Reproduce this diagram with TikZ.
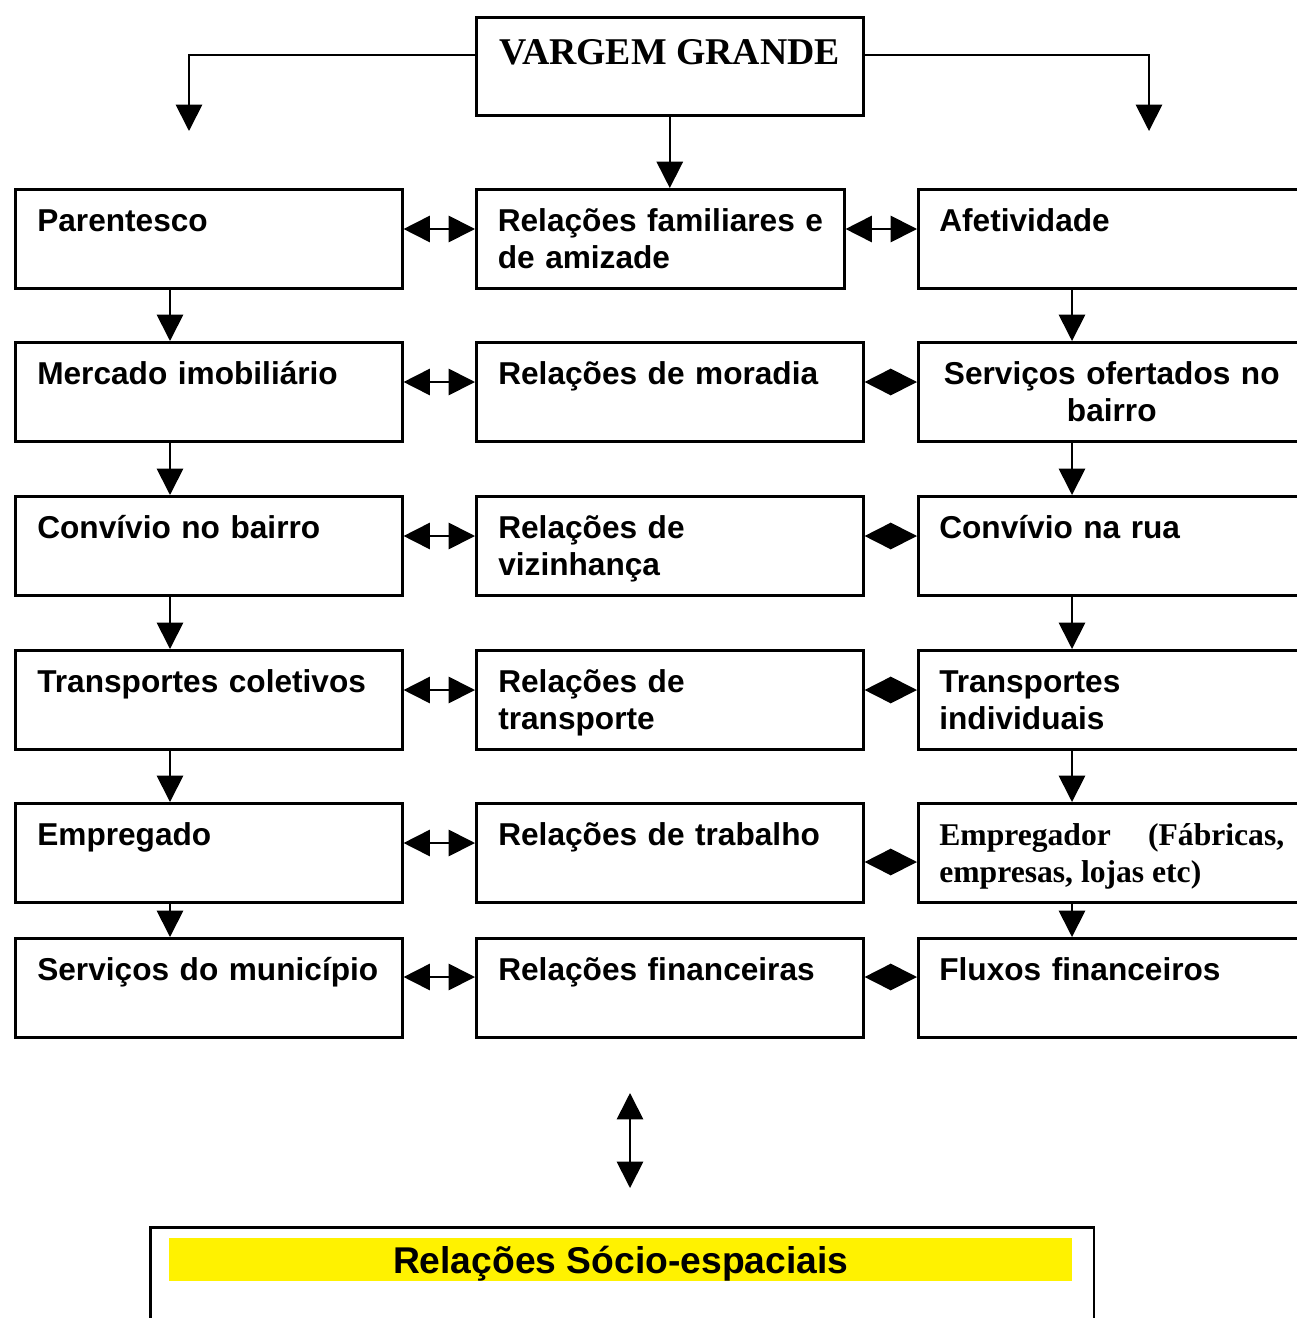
\documentclass[tikz,border=0pt]{standalone}
\usepackage{fontspec}
\setmainfont{Liberation Serif}
\setsansfont{Liberation Sans}
\usetikzlibrary{arrows.meta,calc}
\tikzset{cx/.style={draw,line width=1.5pt,anchor=north west,inner ysep=0pt,inner xsep=0.44cm,
  text width=6.86cm,align=left,text height=0.84cm,text depth=1.14cm,
  font=\fontsize{18}{21}\selectfont\sffamily\bfseries}}
\tikzset{cxd/.style={cx,inner xsep=0.42cm,text width=6.9cm}}
\tikzset{seta/.style={line width=1pt,-{Triangle[length=15pt,width=15pt]}}}
\tikzset{dupla/.style={line width=1pt,{Triangle[length=15pt,width=15pt]}-{Triangle[length=15pt,width=15pt]}}}

\begin{document}
\begin{tikzpicture}[x=0.02cm,y=-0.02cm]
  \useasboundingbox (0,0) rectangle (1296,1318);
  % topo
  \node[draw,line width=1.5pt,anchor=north west,inner sep=0pt,minimum width=7.74cm,
    text height=0.94cm,text depth=1.02cm,font=\fontsize{21.5}{24}\selectfont\rmfamily\bfseries]
    (vg) at (475,16) {VARGEM GRANDE};
  \coordinate (ltip) at (189,131);
  \coordinate (rtip) at (1149,131);
  % linha 1
  \node[cx] (par) at (14,188) {Parentesco};
  \node[cx,inner xsep=0.43cm,text width=6.5cm] (fam) at (475,188) {\mbox{Relações familiares e}\\ de amizade};
  \node[cxd] (afe) at (917,188) {Afetividade};
  % linha 2
  \node[cx] (mer) at (14,341) {Mercado imobiliário};
  \node[cx] (mor) at (475,341) {Relações de moradia};
  \node[cxd,align=center] (ser) at (917,341) {Serviços ofertados no\\ bairro};
  % linha 3
  \node[cx] (cbai) at (14,495) {Convívio no bairro};
  \node[cx] (viz) at (475,495) {Relações de\\ vizinhança};
  \node[cxd] (crua) at (917,495) {Convívio na rua};
  % linha 4
  \node[cx] (tcol) at (14,649) {Transportes coletivos};
  \node[cx] (tra) at (475,649) {Relações de\\ transporte};
  \node[cxd] (tind) at (917,649) {Transportes\\ individuais};
  % linha 5
  \node[cx] (empo) at (14,802) {Empregado};
  \node[cx] (trab) at (475,802) {Relações de trabalho};
  \node[cxd,align=justify,font=\fontsize{18}{21}\selectfont\rmfamily\bfseries] (empr) at (917,802)
    {Empregador (Fábricas, empresas, lojas etc)};
  % linha 6
  \node[cx] (smun) at (14,937) {Serviços do município};
  \node[cx] (fin) at (475,937) {Relações financeiras};
  \node[cxd] (flux) at (917,937) {Fluxos financeiros};
  % base
  \node[draw,line width=1.5pt,anchor=north west,minimum width=18.88cm,minimum height=3cm] (caixa) at (149,1226) {};
  \node[fill=yellow,anchor=north west,inner sep=0pt,minimum width=18.06cm,text height=0.7cm,text depth=0.16cm,
    font=\fontsize{21.2}{24}\selectfont\sffamily\bfseries] (rse) at (169,1238) {Relações Sócio-espaciais};
  \coordinate (up) at (630,1093);
  \coordinate (dn) at (630,1188);

  % conexoes
  \draw[seta] ($(vg.north west)+(0,39)$) -| (ltip);
  \draw[seta] ($(vg.north east)+(0,39)$) -| (rtip);
  \draw[seta] (vg.south) -- (vg.south |- fam.north);
  \foreach \a/\b in {par/mer,mer/cbai,cbai/tcol,tcol/empo,empo/smun}
    \draw[seta] ($(\a.south west)+(156,0)$) -- ($(\b.north west)+(156,0)$);
  \foreach \a/\b in {afe/ser,ser/crua,crua/tind,tind/empr,empr/flux}
    \draw[seta] ($(\a.south west)+(155,0)$) -- ($(\b.north west)+(155,0)$);
  \foreach \a/\b/\d in {par/fam/41,mer/mor/41,cbai/viz/41,tcol/tra/41,empo/trab/41,smun/fin/40}
    \draw[dupla] ($(\a.north east)+(0,\d)$) -- ($(\b.north west)+(0,\d)$);
  \foreach \a/\b/\d in {fam/afe/41,mor/ser/41,viz/crua/41,tra/tind/41,trab/empr/60,fin/flux/40}
    \draw[dupla] ($(\a.north east)+(0,\d)$) -- ($(\b.north west)+(0,\d)$);
  \draw[dupla] (up) -- (dn);
\end{tikzpicture}
\end{document}
